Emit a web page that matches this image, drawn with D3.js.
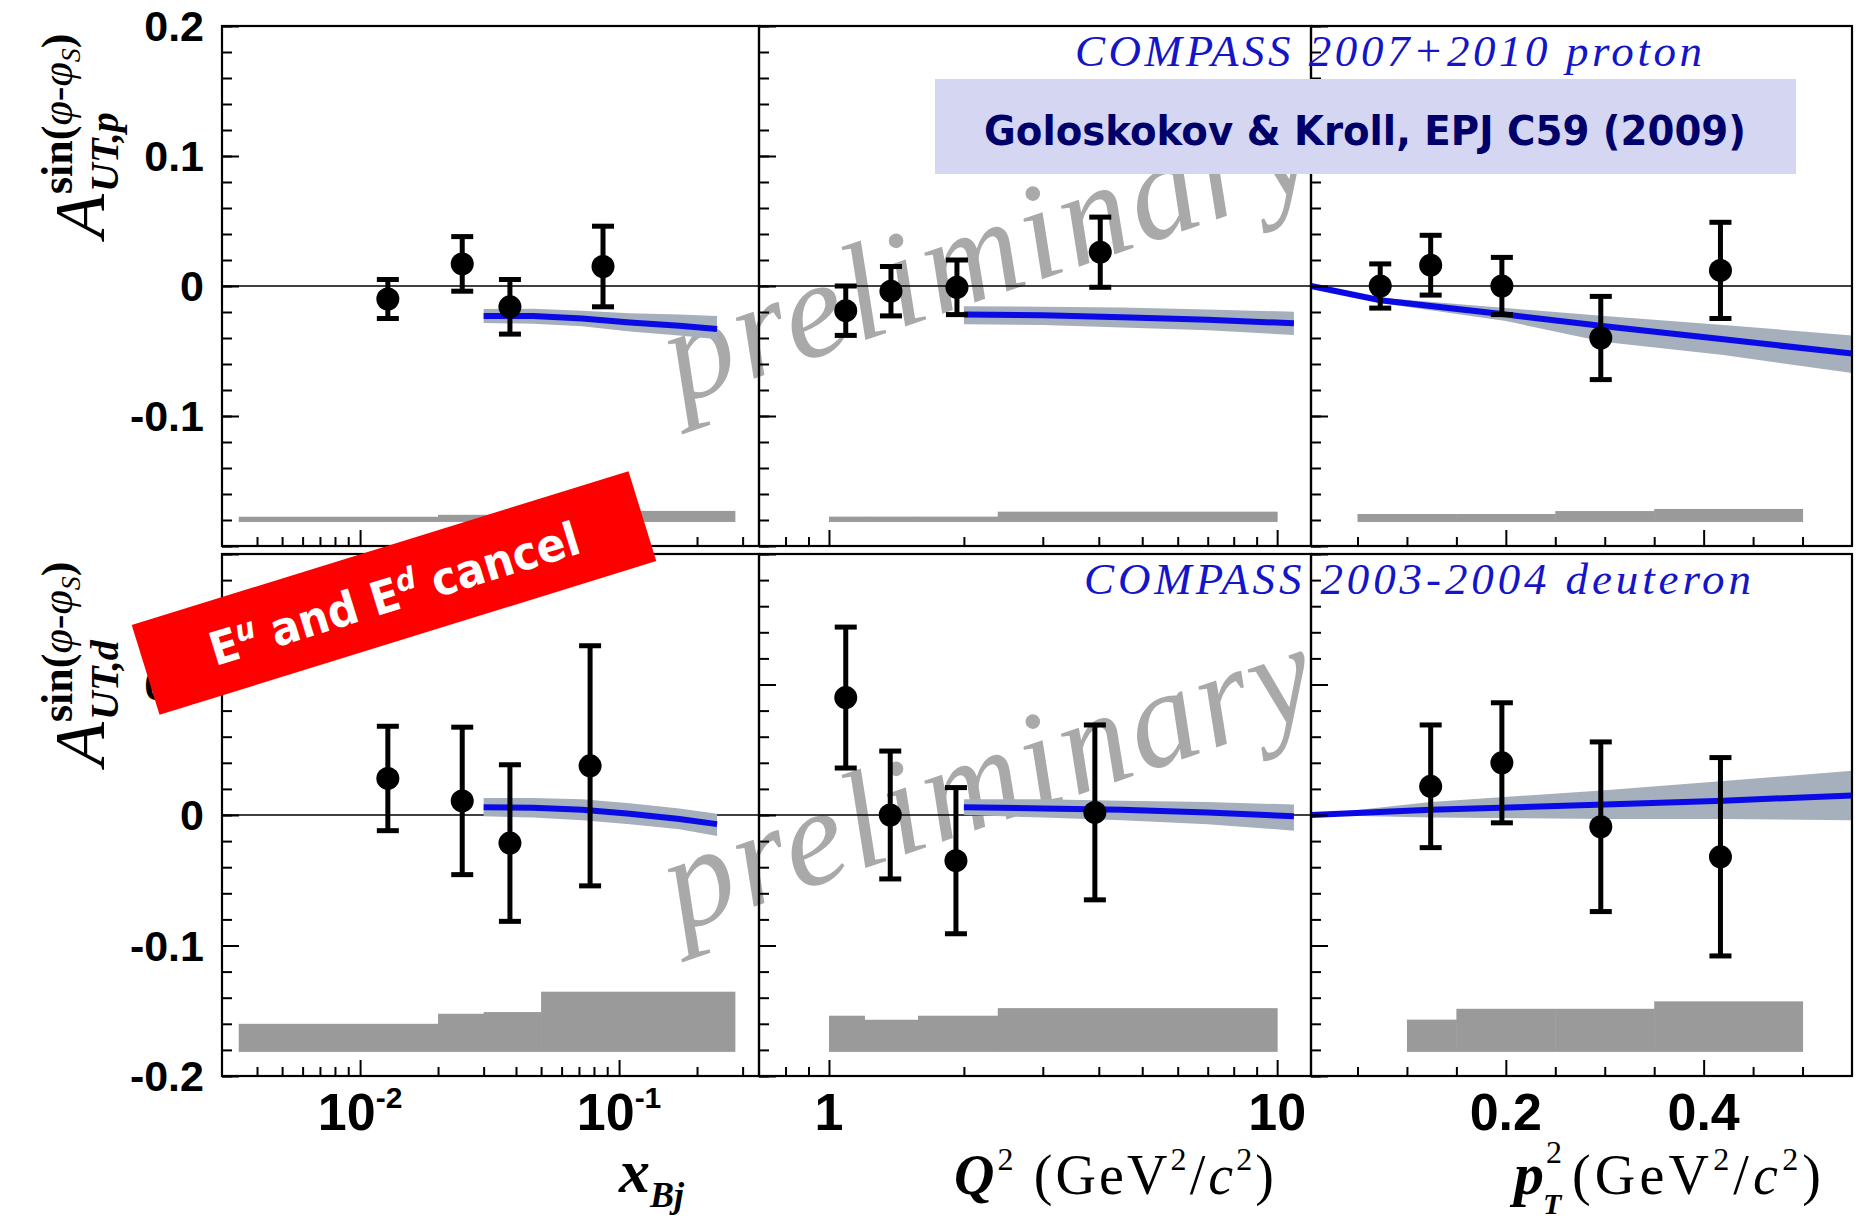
<!DOCTYPE html>
<html>
<head>
<meta charset="utf-8">
<script src="https://cdn.jsdelivr.net/npm/d3@7"></script>
<style>
  body { margin: 0; background: #fff; }
  .serif { font-family: "Liberation Serif", "Times New Roman", serif; }
  .sans { font-family: "Liberation Sans", Arial, sans-serif; }
</style>
</head>
<body>
<div id="visualContainer"></div>
<script>
// ---- data ----
var sysBase = -0.1815;

// proton, x_Bj
var pXbjX = [0.0128, 0.0248, 0.0379, 0.0867];
var pXbjY = [-0.010, 0.017, -0.016, 0.015];
var pXbjErr = [0.015, 0.021, 0.021, 0.031];
var pXbjThX = [0.030, 0.0466, 0.072, 0.110, 0.171, 0.239];
var pXbjThY = [-0.023, -0.023, -0.025, -0.028, -0.0305, -0.033];
var pXbjThLo = [-0.0285, -0.029, -0.031, -0.035, -0.038, -0.041];
var pXbjThHi = [-0.0177, -0.0175, -0.019, -0.021, -0.022, -0.023];
var pXbjSysEdges = [0.0034, 0.02, 0.03, 0.05, 0.28];
var pXbjSysTop = [-0.1775, -0.176, -0.176, -0.173];

// proton, Q2
var pQ2X = [1.09, 1.375, 1.93, 4.03];
var pQ2Y = [-0.019, -0.004, -0.001, 0.026];
var pQ2Err = [0.019, 0.019, 0.021, 0.027];
var pQ2ThX = [2.0, 3.0, 4.5, 7.0, 10.9];
var pQ2ThY = [-0.022, -0.0225, -0.024, -0.026, -0.0287];
var pQ2ThLo = [-0.0295, -0.030, -0.032, -0.034, -0.0377];
var pQ2ThHi = [-0.0155, -0.016, -0.0165, -0.018, -0.0198];
var pQ2SysEdges = [1.0, 1.2, 1.58, 2.38, 10.0];
var pQ2SysTop = [-0.1774, -0.1774, -0.1774, -0.1736];

// proton, pT2
var pPtX = [0.073, 0.124, 0.196, 0.296, 0.417];
var pPtY = [0.0, 0.016, 0.0, -0.040, 0.012];
var pPtErr = [0.017, 0.023, 0.022, 0.032, 0.037];
var pPtThX = [0.003, 0.073, 0.2, 0.3, 0.42, 0.55];
var pPtThY = [0.0, -0.011, -0.022, -0.031, -0.041, -0.052];
var pPtThLo = [0.0, -0.013, -0.027, -0.043, -0.053, -0.067];
var pPtThHi = [0.0, -0.009, -0.017, -0.023, -0.030, -0.038];
var pPtSysEdges = [0.05, 0.1, 0.15, 0.25, 0.35, 0.5];
var pPtSysTop = [-0.1754, -0.1754, -0.1754, -0.1731, -0.1715];

// deuteron, x_Bj
var dXbjX = [0.0128, 0.0248, 0.0379, 0.0773];
var dXbjY = [0.028, 0.0108, -0.0215, 0.0377];
var dXbjErr = [0.040, 0.0565, 0.060, 0.092];
var dXbjThX = [0.030, 0.0466, 0.072, 0.110, 0.171, 0.239];
var dXbjThY = [0.006, 0.0055, 0.004, 0.001, -0.003, -0.007];
var dXbjThLo = [-0.001, -0.002, -0.004, -0.007, -0.011, -0.016];
var dXbjThHi = [0.013, 0.013, 0.012, 0.009, 0.005, 0.001];
var dXbjSysEdges = [0.0034, 0.02, 0.03, 0.05, 0.28];
var dXbjSysTop = [-0.160, -0.1523, -0.151, -0.1354];

// deuteron, Q2
var dQ2X = [1.09, 1.37, 1.92, 3.92];
var dQ2Y = [0.090, 0.0, -0.035, 0.002];
var dQ2Err = [0.054, 0.049, 0.056, 0.067];
var dQ2ThX = [2.0, 3.0, 4.5, 7.0, 10.9];
var dQ2ThY = [0.006, 0.005, 0.004, 0.002, -0.001];
var dQ2ThLo = [0.0, -0.002, -0.004, -0.007, -0.012];
var dQ2ThHi = [0.012, 0.012, 0.011, 0.010, 0.008];
var dQ2SysEdges = [1.0, 1.2, 1.58, 2.38, 10.0];
var dQ2SysTop = [-0.1538, -0.1569, -0.1538, -0.148];

// deuteron, pT2
var dPtX = [0.124, 0.196, 0.296, 0.417];
var dPtY = [0.022, 0.040, -0.009, -0.032];
var dPtErr = [0.047, 0.046, 0.065, 0.076];
var dPtThX = [0.003, 0.124, 0.3, 0.42, 0.55];
var dPtThY = [0.0, 0.004, 0.008, 0.011, 0.015];
var dPtThLo = [0.0, -0.002, -0.003, -0.003, -0.004];
var dPtThHi = [0.0, 0.010, 0.019, 0.026, 0.034];
var dPtSysEdges = [0.1, 0.15, 0.25, 0.35, 0.5];
var dPtSysTop = [-0.1568, -0.1485, -0.1485, -0.1428];

// axis ticks and labels
var yLabelValues = [[0.2, 0.1, 0, -0.1], [0.1, 0, -0.1, -0.2]];
var yLabelText = [["0.2", "0.1", "0", "-0.1"], ["0.1", "0", "-0.1", "-0.2"]];
var xMajorTicks = [[0.01, 0.1], [1, 10], [0.2, 0.4]];
var ptMinorTicks = [0.05, 0.1, 0.15, 0.25, 0.3, 0.35, 0.45, 0.5];
var xLabelBase = [["10", "10"], ["1", "10"], ["0.2", "0.4"]];
var xLabelExp = [["-2", "-1"], ["", ""], ["", ""]];
var datasetTitles = ["COMPASS 2007+2010 proton", "COMPASS 2003-2004 deuteron"];
var ySubscripts = ["UT,p", "UT,d"];

// ---- layout ----
var colLeft = [222, 759, 1311];
var colRight = [759, 1311, 1852];
var rowTop = [26, 554];
var rowBottom = [546, 1076];
var xDomains = [
  d3.scaleLog().domain([0.00293, 0.347]),
  d3.scaleLog().domain([0.698, 11.9]),
  d3.scaleLinear().domain([0.003, 0.55])
];

var panels = [
  {row: 0, col: 0, x: pXbjX, y: pXbjY, err: pXbjErr, thX: pXbjThX, thY: pXbjThY, thLo: pXbjThLo, thHi: pXbjThHi, sysE: pXbjSysEdges, sysT: pXbjSysTop},
  {row: 0, col: 1, x: pQ2X, y: pQ2Y, err: pQ2Err, thX: pQ2ThX, thY: pQ2ThY, thLo: pQ2ThLo, thHi: pQ2ThHi, sysE: pQ2SysEdges, sysT: pQ2SysTop},
  {row: 0, col: 2, x: pPtX, y: pPtY, err: pPtErr, thX: pPtThX, thY: pPtThY, thLo: pPtThLo, thHi: pPtThHi, sysE: pPtSysEdges, sysT: pPtSysTop},
  {row: 1, col: 0, x: dXbjX, y: dXbjY, err: dXbjErr, thX: dXbjThX, thY: dXbjThY, thLo: dXbjThLo, thHi: dXbjThHi, sysE: dXbjSysEdges, sysT: dXbjSysTop},
  {row: 1, col: 1, x: dQ2X, y: dQ2Y, err: dQ2Err, thX: dQ2ThX, thY: dQ2ThY, thLo: dQ2ThLo, thHi: dQ2ThHi, sysE: dQ2SysEdges, sysT: dQ2SysTop},
  {row: 1, col: 2, x: dPtX, y: dPtY, err: dPtErr, thX: dPtThX, thY: dPtThY, thLo: dPtThLo, thHi: dPtThHi, sysE: dPtSysEdges, sysT: dPtSysTop}
];

var svgCanvas = d3.select("#visualContainer")
  .append("svg")
  .attr("width", 1860)
  .attr("height", 1223);

svgCanvas.append("rect").attr("width", 1860).attr("height", 1223).attr("fill", "#fff");

// watermark first, everything else sits on top
[0, 1].forEach(function(r) {
  svgCanvas.append("text")
    .attr("class", "serif")
    .attr("transform", "translate(680," + (404 + r * 528) + ") rotate(-19)")
    .attr("font-style", "italic")
    .attr("font-size", 138)
    .attr("fill", "#a9a9a9")
    .attr("textLength", 680)
    .attr("lengthAdjust", "spacing")
    .text("preliminary");
});

function xScaleFor(col) {
  return xDomains[col].copy().range([colLeft[col], colRight[col]]);
}
function yScaleFor(row) {
  return d3.scaleLinear().domain([-0.2, 0.2]).range([rowBottom[row], rowTop[row]]);
}

function drawPanel(p) {
  var x = xScaleFor(p.col);
  var y = yScaleFor(p.row);
  var g = svgCanvas.append("g");

  // systematic bands
  g.selectAll(".sys")
    .data(p.sysT)
    .enter()
    .append("rect")
    .attr("x", function(d, i) { return x(p.sysE[i]); })
    .attr("width", function(d, i) { return x(p.sysE[i + 1]) - x(p.sysE[i]) + 0.5; })
    .attr("y", function(d) { return y(d); })
    .attr("height", function(d) { return y(sysBase) - y(d); })
    .attr("fill", "#9a9a9a");

  // zero line
  g.append("line")
    .attr("x1", colLeft[p.col]).attr("x2", colRight[p.col])
    .attr("y1", y(0)).attr("y2", y(0))
    .attr("stroke", "#000").attr("stroke-width", 1.6);

  // model band + curve
  var idx = d3.range(p.thX.length);
  g.append("path")
    .datum(idx)
    .attr("fill", "#a5b0bc")
    .attr("d", d3.area()
      .x(function(i) { return x(p.thX[i]); })
      .y0(function(i) { return y(p.thLo[i]); })
      .y1(function(i) { return y(p.thHi[i]); }));
  g.append("path")
    .datum(idx)
    .attr("fill", "none")
    .attr("stroke", "#0a0ae6")
    .attr("stroke-width", 6)
    .attr("d", d3.line()
      .x(function(i) { return x(p.thX[i]); })
      .y(function(i) { return y(p.thY[i]); }));

  // data points with error bars
  var pts = g.selectAll(".pt")
    .data(p.y)
    .enter()
    .append("g");
  pts.append("line")
    .attr("x1", function(d, i) { return x(p.x[i]); })
    .attr("x2", function(d, i) { return x(p.x[i]); })
    .attr("y1", function(d, i) { return y(d + p.err[i]); })
    .attr("y2", function(d, i) { return y(d - p.err[i]); })
    .attr("stroke", "#000").attr("stroke-width", 5);
  [1, -1].forEach(function(s) {
    pts.append("rect")
      .attr("x", function(d, i) { return x(p.x[i]) - 11; })
      .attr("y", function(d, i) { return y(d + s * p.err[i]) - 2.5; })
      .attr("width", 22).attr("height", 5)
      .attr("fill", "#000");
  });
  pts.append("circle")
    .attr("cx", function(d, i) { return x(p.x[i]); })
    .attr("cy", function(d) { return y(d); })
    .attr("r", 11.5)
    .attr("fill", "#000");

  // frame
  g.append("rect")
    .attr("x", colLeft[p.col]).attr("y", rowTop[p.row])
    .attr("width", colRight[p.col] - colLeft[p.col])
    .attr("height", rowBottom[p.row] - rowTop[p.row])
    .attr("fill", "none").attr("stroke", "#000").attr("stroke-width", 2.2);

  // y ticks, pointing into the panel
  var yMajor = y.ticks(4), yMinor = y.ticks(20);
  g.append("g")
    .attr("transform", "translate(" + colLeft[p.col] + ",0)")
    .call(d3.axisRight(y).tickValues(yMinor).tickSize(10).tickFormat(""));
  g.append("g")
    .attr("transform", "translate(" + colLeft[p.col] + ",0)")
    .call(d3.axisRight(y).tickValues(yMajor).tickSize(17).tickFormat(""));

  // x ticks, pointing up from the bottom edge
  var minor = p.col == 2 ? ptMinorTicks : x.ticks().filter(function(t) {
    return xMajorTicks[p.col].indexOf(+t.toPrecision(6)) < 0;
  });
  minor = minor.filter(function(t) { return x(t) > colLeft[p.col] + 4 && x(t) < colRight[p.col] - 4; });
  g.append("g")
    .attr("transform", "translate(0," + rowBottom[p.row] + ")")
    .call(d3.axisTop(x).tickValues(minor).tickSize(9).tickFormat(""));
  g.append("g")
    .attr("transform", "translate(0," + rowBottom[p.row] + ")")
    .call(d3.axisTop(x).tickValues(xMajorTicks[p.col]).tickSize(16).tickFormat(""));

  g.selectAll(".domain").remove();
  g.selectAll(".tick line").attr("stroke", "#000").attr("stroke-width", 2);
}

panels.forEach(drawPanel);

// y tick labels
[0, 1].forEach(function(r) {
  var y = yScaleFor(r);
  svgCanvas.selectAll(".ylab" + r)
    .data(yLabelValues[r])
    .enter()
    .append("text")
    .attr("class", "sans")
    .attr("x", 204)
    .attr("y", function(d) { return y(d) + 15; })
    .attr("text-anchor", "end")
    .attr("font-weight", "bold")
    .attr("font-size", 43)
    .text(function(d, i) { return yLabelText[r][i]; });
});

// x tick labels (bottom row only)
[0, 1, 2].forEach(function(c) {
  var x = xScaleFor(c);
  xMajorTicks[c].forEach(function(t, k) {
    var txt = svgCanvas.append("text")
      .attr("class", "sans")
      .attr("x", x(t))
      .attr("y", 1130)
      .attr("text-anchor", "middle")
      .attr("font-weight", "bold")
      .attr("font-size", 52);
    txt.append("tspan").text(xLabelBase[c][k]);
    if (xLabelExp[c][k]) {
      txt.append("tspan").attr("font-size", 30).attr("dy", -22).text(xLabelExp[c][k]);
    }
  });
});

// y axis titles
[0, 1].forEach(function(r) {
  var off = r * 528;
  svgCanvas.append("text")
    .attr("class", "serif")
    .attr("transform", "translate(104," + (238 + off) + ") rotate(-90)")
    .attr("font-style", "italic")
    .attr("font-size", 72)
    .text("A");
  svgCanvas.append("text")
    .attr("class", "serif")
    .attr("transform", "translate(118," + (192 + off) + ") rotate(-90)")
    .attr("font-style", "italic")
    .attr("font-weight", "bold")
    .attr("font-size", 40)
    .text(ySubscripts[r]);
  var sup = svgCanvas.append("text")
    .attr("class", "serif")
    .attr("transform", "translate(72," + (194 + off) + ") rotate(-90)")
    .attr("font-size", 44);
  sup.append("tspan").attr("font-weight", "bold").text("sin(");
  sup.append("tspan").attr("font-style", "italic").text("\u03c6-\u03c6");
  sup.append("tspan").attr("font-style", "italic").attr("font-size", 28).attr("dy", 8).text("S");
  sup.append("tspan").attr("font-weight", "bold").attr("dy", -8).text(")");
});

// x axis titles
var xt1 = svgCanvas.append("text").attr("class", "serif").attr("x", 619).attr("y", 1192)
  .attr("font-weight", "bold").attr("font-style", "italic");
xt1.append("tspan").attr("font-size", 62).text("x");
xt1.append("tspan").attr("font-size", 36).attr("dy", 15).text("Bj");

var xt2 = svgCanvas.append("text").attr("class", "serif").attr("x", 954).attr("y", 1194)
  .attr("font-size", 56)
  .attr("textLength", 320)
  .attr("lengthAdjust", "spacing");
xt2.append("tspan").attr("font-weight", "bold").attr("font-style", "italic").text("Q");
xt2.append("tspan").attr("font-size", 32).attr("dy", -24).text("2");
xt2.append("tspan").attr("dy", 24).text(" (GeV");
xt2.append("tspan").attr("font-size", 32).attr("dy", -24).text("2");
xt2.append("tspan").attr("dy", 24).text("/");
xt2.append("tspan").attr("font-style", "italic").text("c");
xt2.append("tspan").attr("font-size", 32).attr("dy", -24).text("2");
xt2.append("tspan").attr("dy", 24).text(")");

svgCanvas.append("text").attr("class", "serif").attr("x", 1514).attr("y", 1194)
  .attr("font-size", 60).attr("font-weight", "bold").attr("font-style", "italic").text("p");
svgCanvas.append("text").attr("class", "serif").attr("x", 1546).attr("y", 1163)
  .attr("font-size", 32).text("2");
svgCanvas.append("text").attr("class", "serif").attr("x", 1543).attr("y", 1214)
  .attr("font-size", 30).attr("font-weight", "bold").attr("font-style", "italic").text("T");
var xt3 = svgCanvas.append("text").attr("class", "serif").attr("x", 1572).attr("y", 1194)
  .attr("font-size", 56)
  .attr("textLength", 249)
  .attr("lengthAdjust", "spacing");
xt3.append("tspan").text("(GeV");
xt3.append("tspan").attr("font-size", 32).attr("dy", -24).text("2");
xt3.append("tspan").attr("dy", 24).text("/");
xt3.append("tspan").attr("font-style", "italic").text("c");
xt3.append("tspan").attr("font-size", 32).attr("dy", -24).text("2");
xt3.append("tspan").attr("dy", 24).text(")");

// dataset titles
svgCanvas.selectAll(".dtitle")
  .data(datasetTitles)
  .enter()
  .append("text")
  .attr("class", "serif")
  .attr("x", function(d, i) { return i == 0 ? 1075 : 1084; })
  .attr("y", function(d, i) { return i == 0 ? 66 : 594; })
  .attr("font-style", "italic")
  .attr("font-size", 45)
  .attr("fill", "#1414c8")
  .attr("textLength", function(d, i) { return i == 0 ? 627 : 667; })
  .attr("lengthAdjust", "spacing")
  .text(function(d) { return d; });

// reference box
svgCanvas.append("rect")
  .attr("x", 935).attr("y", 79).attr("width", 861).attr("height", 95)
  .attr("fill", "#d4d6f2");
svgCanvas.append("text")
  .attr("x", 1365).attr("y", 145)
  .attr("text-anchor", "middle")
  .attr("font-family", "'DejaVu Sans', Verdana, sans-serif")
  .attr("font-weight", "bold")
  .attr("font-size", 40)
  .attr("fill", "#00006a")
  .attr("textLength", 762)
  .attr("lengthAdjust", "spacingAndGlyphs")
  .text("Goloskokov & Kroll, EPJ C59 (2009)");

// red note
var note = svgCanvas.append("g")
  .attr("transform", "translate(394,593) rotate(-17.2)");
note.append("rect")
  .attr("x", -260).attr("y", -47).attr("width", 520).attr("height", 94)
  .attr("fill", "#ff0000");
var nt = note.append("text")
  .attr("x", 0).attr("y", 17)
  .attr("text-anchor", "middle")
  .attr("font-family", "'DejaVu Sans', Verdana, sans-serif")
  .attr("font-weight", "bold")
  .attr("font-size", 46)
  .attr("fill", "#fff")
  .attr("textLength", 385)
  .attr("lengthAdjust", "spacingAndGlyphs");
nt.append("tspan").text("E");
nt.append("tspan").attr("font-size", 30).attr("font-style", "italic").attr("dy", -16).text("u");
nt.append("tspan").attr("dy", 16).text(" and E");
nt.append("tspan").attr("font-size", 30).attr("font-style", "italic").attr("dy", -16).text("d");
nt.append("tspan").attr("dy", 16).text(" cancel");
</script>
</body>
</html>
